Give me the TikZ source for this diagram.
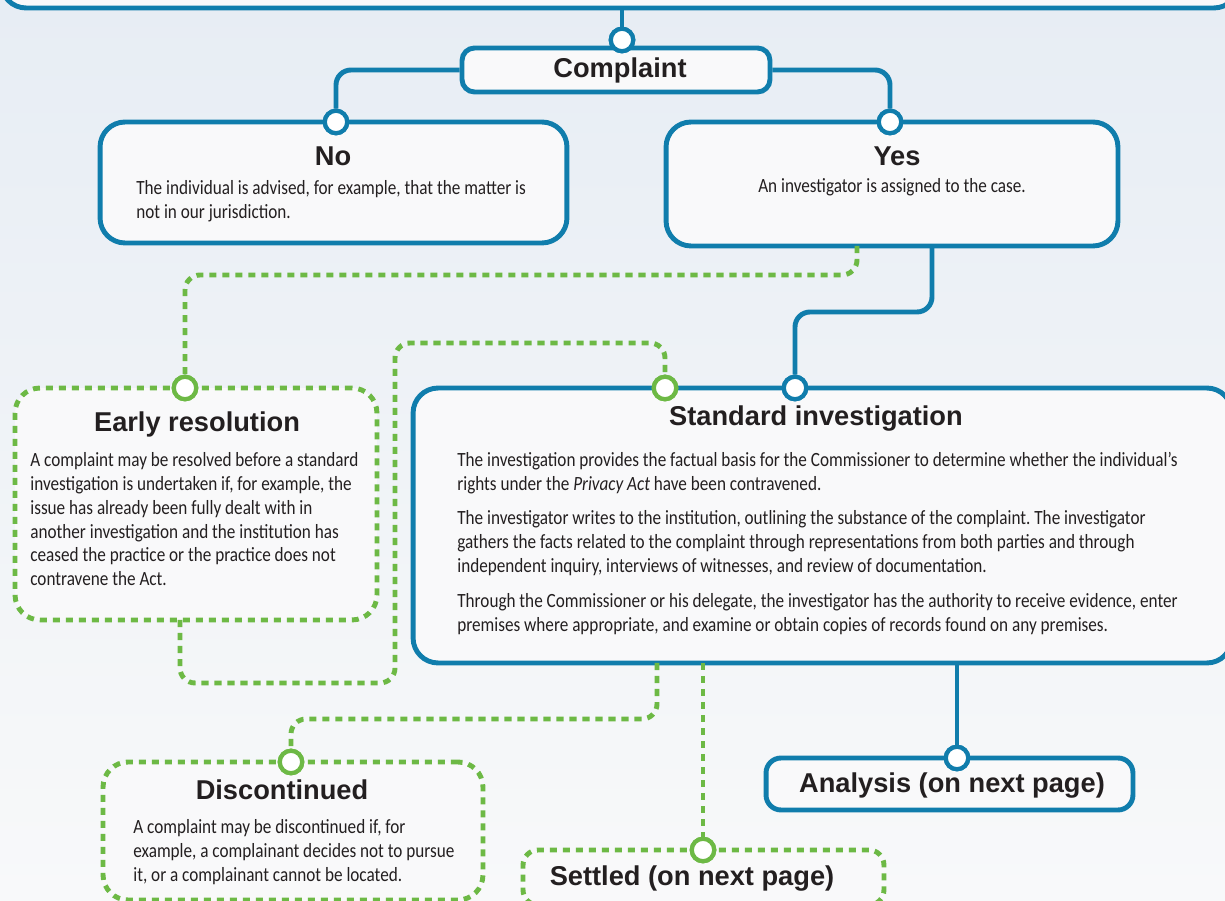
\documentclass[tikz,border=0pt]{standalone}
\usepackage{fontspec}
\setmainfont{Liberation Sans}
\newfontfamily\bodyfont[FakeStretch=0.85]{Carlito}
\usetikzlibrary{positioning}
\frenchspacing
\definecolor{pathblue}{RGB}{16,125,172}
\definecolor{pathgreen}{RGB}{109,185,69}
\definecolor{boxfill}{RGB}{249,249,250}
\definecolor{bgtop}{RGB}{231,237,244}
\definecolor{bgbottom}{RGB}{248,249,250}
\definecolor{inktext}{RGB}{35,31,32}

\begin{document}
\begin{tikzpicture}[
  x=0.02cm, y=-0.02cm,
  stage/.style={draw=pathblue, line width=2.8pt, fill=boxfill, rounded corners=0.5cm},
  option/.style={draw=pathgreen, line width=2.8pt, dash pattern=on 4pt off 3.4pt,
                 fill=boxfill, rounded corners=0.5cm},
  title/.style={font=\fontsize{15.5}{18}\selectfont\bfseries, text=inktext, inner sep=0},
  body/.style={font=\bodyfont\fontsize{11.5}{13.6}\selectfont, text=inktext,
               align=left, inner sep=0},
  bport/.style={circle, draw=pathblue, fill=white, line width=2.4pt,
                minimum size=0.45cm, inner sep=0},
  gport/.style={bport, draw=pathgreen},
  bline/.style={draw=pathblue, line width=2.8pt, rounded corners=0.3cm},
  gline/.style={draw=pathgreen, line width=2.8pt, dash pattern=on 4pt off 3.4pt,
                rounded corners=0.3cm}
]
\useasboundingbox (0,0) rectangle (1225,901);
\clip (0,0) rectangle (1225,901);
\fill[top color=bgtop, bottom color=bgbottom] (0,0) rectangle (1225,901);

% Boxes
\node[stage, minimum width=24.76cm, minimum height=2cm] (intake) at (620,-42) {};
\node[stage, rounded corners=0.25cm, minimum width=6.16cm, minimum height=0.88cm] (cmp) at (616,70) {};
\node[stage, minimum width=9.34cm, minimum height=2.42cm] (no) at (333.5,182.5) {};
\node[stage, minimum width=9.04cm, minimum height=2.48cm] (yes) at (892,184) {};
\node[option, minimum width=7.24cm, minimum height=4.64cm] (early) at (196,504) {};
\node[stage, minimum width=16.38cm, minimum height=5.5cm] (std) at (822.5,525.5) {};
\node[stage, rounded corners=0.3cm, minimum width=7.34cm, minimum height=1.04cm] (ana) at (949.5,784) {};
\node[option, minimum width=7.6cm, minimum height=2.76cm] (disc) at (293,831) {};
\node[option, rounded corners=0.3cm, minimum width=7.22cm, minimum height=1.1cm] (settled) at (703.5,877.5) {};

% Connector ends on box edges
\coordinate (yesDrop) at (932,246);
\coordinate (yesSide) at (857,246);
\coordinate (earlyOut) at (180,620);
\coordinate (stdLeft) at (657,663);
\coordinate (stdMid) at (703,663);
\coordinate (stdRight) at (957,663);

% Ports
\node[bport] (cmpIn) at (622,40) {};
\node[bport] (noIn) at (336,122) {};
\node[bport] (yesIn) at (890,122) {};
\node[gport] (erIn) at (185,388) {};
\node[gport] (stdAlt) at (665,388) {};
\node[bport] (stdIn) at (795,388) {};
\node[bport] (anIn) at (957,758) {};
\node[gport] (dcIn) at (291,762) {};
\node[gport] (stIn) at (703,850) {};

% Connectors
\draw[bline] (cmpIn) -- (cmpIn |- intake.south);
\draw[bline] (cmp.west) -| (noIn);
\draw[bline] (cmp.east) -| (yesIn);
\draw[bline] (yesDrop) -- ++(0,66) -| (stdIn);
\draw[bline] (stdRight) -- (anIn);
\draw[gline] (yesSide) -- ++(0,29) -| (erIn);
\draw[gline] (earlyOut) -- ++(0,63) -| ++(215,-340) -| (stdAlt);
\draw[gline] (stdLeft) -- ++(0,56) -| (dcIn);
\draw[gline] (stdMid) -- (stIn);

% redraw ports over the line ends
\foreach \p in {cmpIn,noIn,yesIn,stdIn,anIn}
  \node[bport] at (\p) {};
\foreach \p in {erIn,stdAlt,dcIn,stIn}
  \node[gport] at (\p) {};

% Titles
\node[title, anchor=base] (cmpT) at (620,78) {Complaint};
\node[title, anchor=base] (noT) at (333,166) {No};
\node[title, anchor=base] (yesT) at (897,166) {Yes};
\node[title, anchor=base] (earlyT) at (197,432) {Early resolution};
\node[title, anchor=base] (stdT) at (816,426) {Standard investigation};
\node[title, anchor=base] (anaT) at (952,793) {Analysis (on next page)};
\node[title, anchor=base] (discT) at (282,800) {Discontinued};
\node[title, anchor=base] (settledT) at (692,886) {Settled (on next page)};

% Texts
\node[body, anchor=north west] (noX) at (136,180)
  {The individual is advised, for example, that the matter is\\
   not in our jurisdiction.};
\node[body, anchor=base] (yesX) at (892,193)
  {An investigator is assigned to the case.};
\node[body, anchor=north west] (earlyX) at (30,452)
  {A complaint may be resolved before a standard\\
   investigation is undertaken if, for example, the\\
   issue has already been fully dealt with in\\
   another investigation and the institution has\\
   ceased the practice or the practice does not\\
   contravene the Act.};
\node[body, anchor=north west] (stdX) at (457,452)
  {The investigation provides the factual basis for the Commissioner to determine whether the individual’s\\
   rights under the \textit{Privacy Act} have been contravened.\\[6pt]
   The investigator writes to the institution, outlining the substance of the complaint. The investigator\\
   gathers the facts related to the complaint through representations from both parties and through\\
   independent inquiry, interviews of witnesses, and review of documentation.\\[6pt]
   Through the Commissioner or his delegate, the investigator has the authority to receive evidence, enter\\
   premises where appropriate, and examine or obtain copies of records found on any premises.};
\node[body, anchor=north west] (discX) at (133,819)
  {A complaint may be discontinued if, for\\
   example, a complainant decides not to pursue\\
   it, or a complainant cannot be located.};

\end{tikzpicture}
\end{document}
